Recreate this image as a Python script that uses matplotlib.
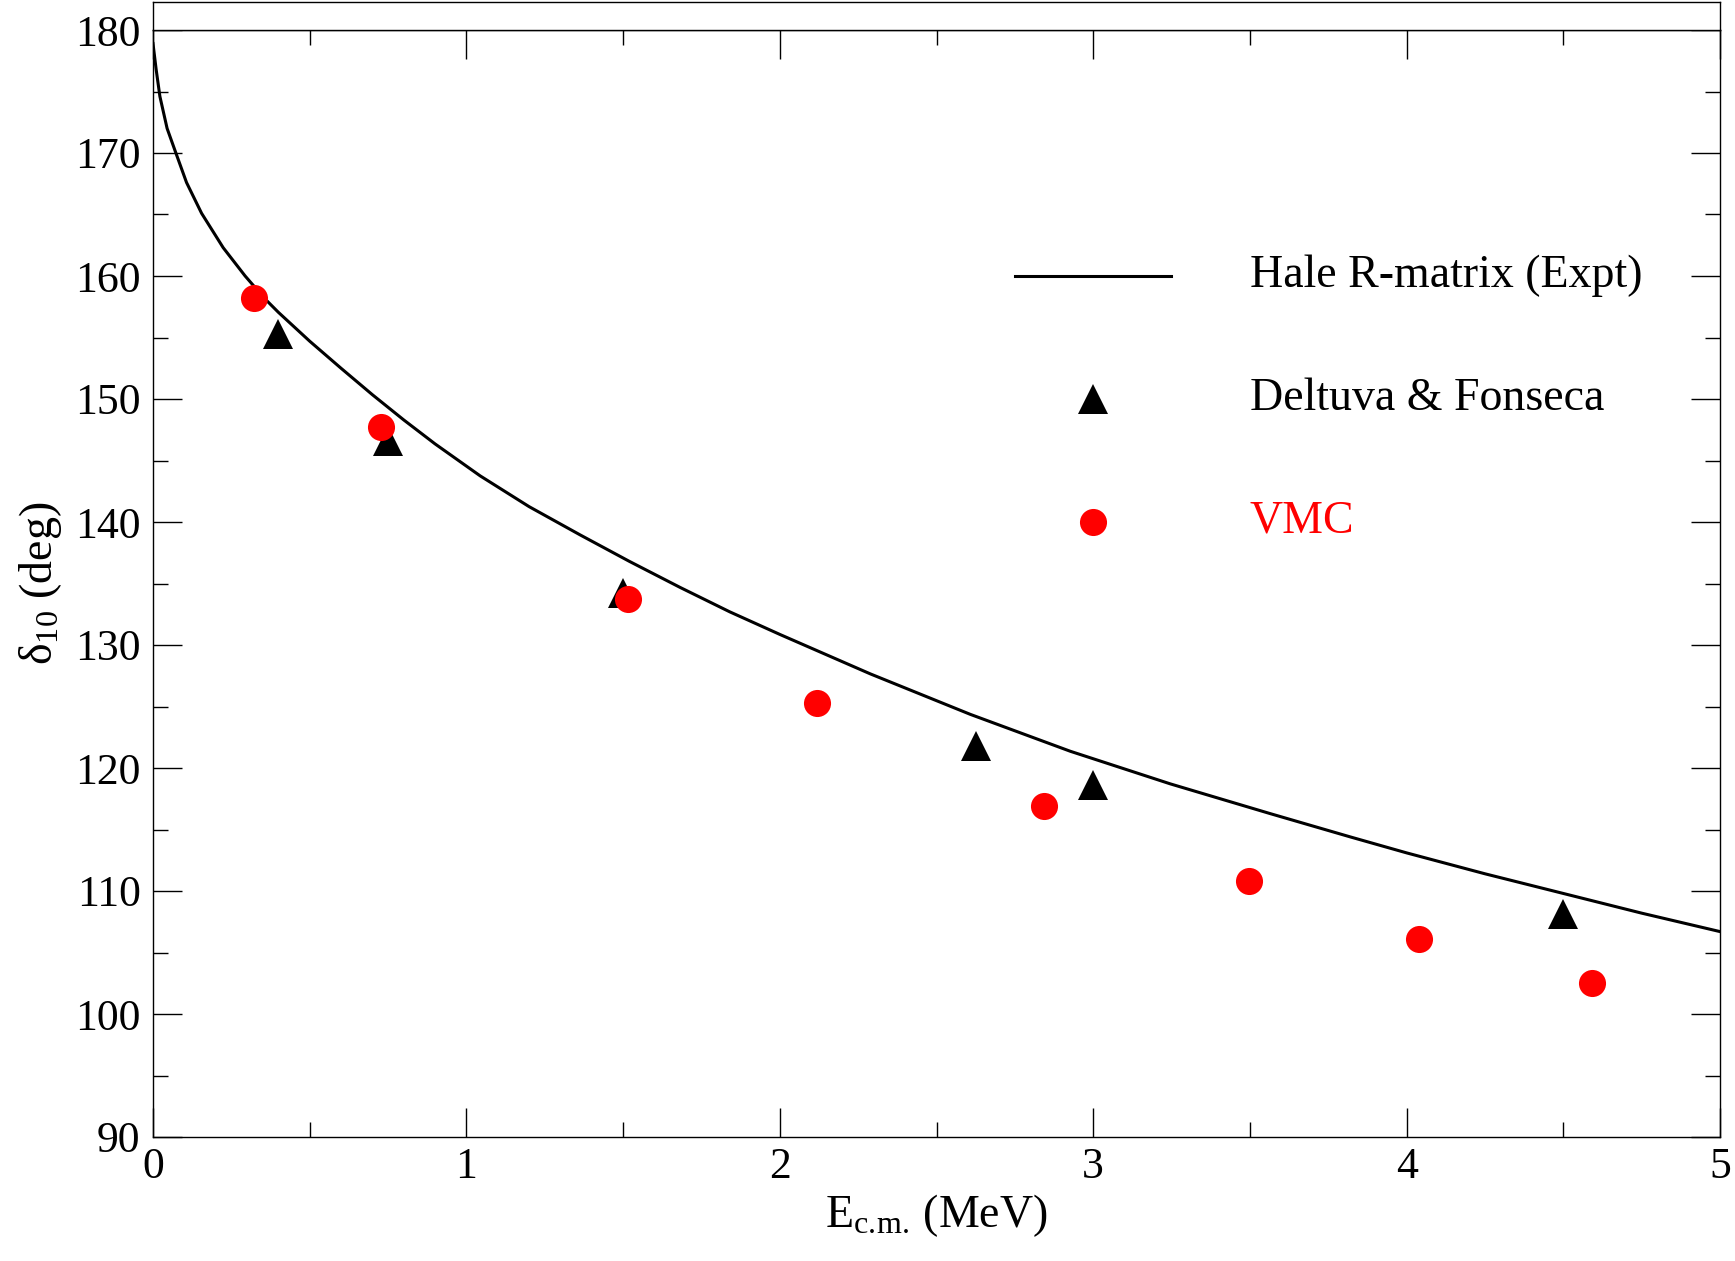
import numpy as np
import matplotlib
matplotlib.use("Agg")
import matplotlib.pyplot as plt
from matplotlib.ticker import MultipleLocator

plt.rcParams['font.family'] = ['Liberation Serif', 'DejaVu Serif']
plt.rcParams['mathtext.fontset'] = 'custom'
plt.rcParams['mathtext.rm'] = 'Liberation Serif'
plt.rcParams['mathtext.it'] = 'Liberation Serif'
plt.rcParams['mathtext.default'] = 'regular'

# -----------------------------
# data
# -----------------------------
# Hale R-matrix (Expt) curve
hale_e = [0.0, 0.01, 0.022, 0.045, 0.073, 0.107, 0.155, 0.224, 0.294, 0.357,
          0.40, 0.50, 0.60, 0.70, 0.80, 0.90, 1.044, 1.20, 1.363, 1.52, 1.682,
          1.84, 2.001, 2.289, 2.608, 2.927, 3.246, 3.565, 3.82, 4.0, 4.25,
          4.5, 4.75, 5.0]
hale_d = [178.9, 176.8, 174.6, 172.0, 170.0, 167.6, 165.1, 162.3, 160.0, 158.15,
          157.05, 154.7, 152.5, 150.35, 148.3, 146.35, 143.75, 141.25, 138.95,
          136.8, 134.68, 132.7, 130.85, 127.65, 124.36, 121.36, 118.71, 116.29,
          114.4, 113.1, 111.4, 109.8, 108.2, 106.7]

# Deltuva & Fonseca
df_e = [0.40, 0.75, 1.50, 2.625, 3.00, 4.50]
df_d = [155.3, 146.6, 134.2, 121.8, 118.6, 108.1]

# VMC
vmc_e = [0.323, 0.728, 1.517, 2.12, 2.844, 3.498, 4.04, 4.59]
vmc_d = [158.25, 147.7, 133.7, 125.3, 116.9, 110.8, 106.1, 102.5]

labels = ["Hale R-matrix (Expt)", "Deltuva & Fonseca", "VMC"]

FS = 33

fig = plt.figure(figsize=(17.35, 12.61), dpi=100)
L, R = 153 / 1735, 1720 / 1735
B, T = 1 - 1137 / 1261, 1 - 30 / 1261
ax = fig.add_axes([L, B, R - L, T - B])

ax.plot(hale_e, hale_d, color='black', lw=2.2)
ax.plot(df_e, df_d, linestyle='none', marker='^', ms=21, color='black', mew=0)
ax.plot(vmc_e, vmc_d, linestyle='none', marker='o', ms=19.5, color='red', mew=0)

ax.set_xlim(0, 5)
ax.set_ylim(90, 180)
ax.xaxis.set_major_locator(MultipleLocator(1))
ax.xaxis.set_minor_locator(MultipleLocator(0.5))
ax.yaxis.set_major_locator(MultipleLocator(10))
ax.yaxis.set_minor_locator(MultipleLocator(5))
ax.tick_params(which='both', direction='in', top=True, right=True, width=1.0, colors='black')
ax.tick_params(which='major', length=21, labelsize=31.5)
ax.tick_params(which='minor', length=10.5)
ax.tick_params(axis='y', pad=9)
ax.tick_params(axis='x', pad=7)
for s in ax.spines.values():
    s.set_linewidth(1.0)

ax.set_xlabel(r"E$_{c.\!m.\!}$ (MeV)", fontsize=FS, labelpad=4)
ax.set_ylabel(r"$\delta_{10}$ (deg)", fontsize=FS, labelpad=8)

# legend drawn by hand, as in the original
ly = [0.778, 0.667, 0.556]
ax.plot([0.5502, 0.6498], [ly[0], ly[0]], transform=ax.transAxes, color='black', lw=2.2)
ax.plot([0.6], [ly[1]], transform=ax.transAxes, marker='^', ms=21, color='black', mew=0)
ax.plot([0.6], [ly[2]], transform=ax.transAxes, marker='o', ms=19.5, color='red', mew=0)
for y, lab, c in zip(ly, labels, ['black', 'black', 'red']):
    ax.text(0.70, y, lab, transform=ax.transAxes, fontsize=FS, color=c, va='center', ha='left')

# empty strip above the plot
top = fig.add_axes([L, T, R - L, (1 - 2.3 / 1261) - T])
top.set_xticks([])
top.set_yticks([])
for s in top.spines.values():
    s.set_linewidth(1.0)

fig.savefig("out.png", dpi=100)
